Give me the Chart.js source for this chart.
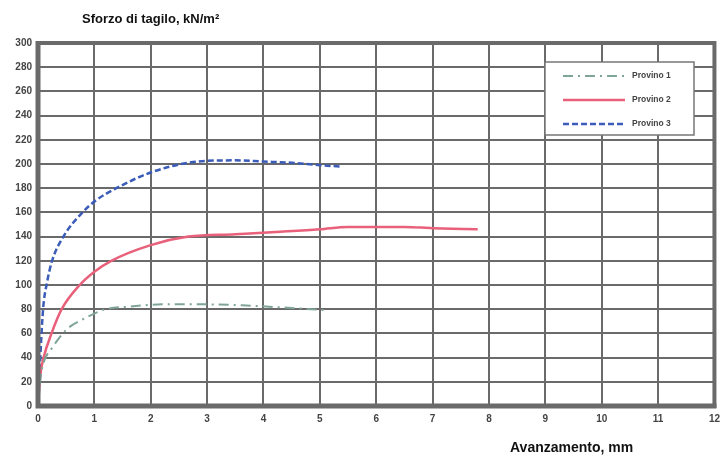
<!DOCTYPE html>
<html>
<head>
<meta charset="utf-8">
<script src="https://cdn.jsdelivr.net/npm/chart.js@4.4.1/dist/chart.umd.min.js"></script>
<style>
  html, body { margin: 0; padding: 0; background: #fff; }
  #wrap { width: 727px; height: 459px; position: relative; }
</style>
</head>
<body>
<div id="wrap"><canvas id="chart"></canvas></div>
<script>
// series (x = mm, y = kN/m2)
var p1X = [0, 0.05, 0.1, 0.25, 0.5, 0.77, 1.2, 1.6, 2.2, 3, 3.7, 4.5, 5.15];
var p1Y = [0, 25, 36, 48, 63, 71, 80, 82, 84, 84, 83, 81, 79];

var p2X = [0, 0.04, 0.1, 0.24, 0.42, 0.74, 1, 1.3, 2, 2.67, 3.5, 4.3, 5, 5.5, 6.5, 7, 7.8];
var p2Y = [0, 25, 40, 60, 80, 100, 111, 120, 133, 140, 142, 144, 146, 148, 148, 147, 146];

var p3X = [0, 0.03, 0.09, 0.16, 0.25, 0.45, 0.79, 1.03, 1.39, 2, 2.67, 3.5, 4, 4.5, 5, 5.35];
var p3Y = [0, 30, 80, 102, 120, 140, 160, 170, 180, 193, 201, 203, 202, 201, 199, 198];

var seriesNames = ["Provino 1", "Provino 2", "Provino 3"];
var yTitle = "Sforzo di tagilo, kN/m²";
var xTitle = "Avanzamento, mm";

function pts(xs, ys){
    return xs.map((x, i) => ({x: x, y: ys[i]}));
}

var gridColor = "#6a6a6a";
var tickFont = {family: "Liberation Sans", size: 10, weight: "bold"};

// frame, titles and the legend box
const extras = {
    id: "extras",
    afterDraw(chart){
        const c = chart.ctx;
        const a = chart.chartArea;
        c.save();
        c.strokeStyle = gridColor;
        c.lineWidth = 4;
        c.strokeRect(a.left, a.top, a.right - a.left, a.bottom - a.top);
        c.lineWidth = 5;
        c.beginPath();
        c.moveTo(a.left, a.top - 2);
        c.lineTo(a.left, a.bottom);
        c.lineTo(a.right + 2, a.bottom);
        c.stroke();

        c.fillStyle = "#111";
        c.font = "bold 13px 'Liberation Sans'";
        c.textBaseline = "middle";
        c.fillText(yTitle, 82, 19);
        c.font = "bold 14px 'Liberation Sans'";
        c.fillText(xTitle, 510, 448);

        // legend
        const lx = 545, ly = 62, lw = 149, lh = 73;
        c.fillStyle = "#fff";
        c.fillRect(lx, ly, lw, lh);
        c.strokeStyle = "#777";
        c.lineWidth = 1.5;
        c.strokeRect(lx, ly, lw, lh);
        chart.data.datasets.forEach((ds, i) => {
            const yy = ly + 14 + i * 24;
            c.strokeStyle = ds.borderColor;
            c.lineWidth = ds.borderWidth;
            c.setLineDash(ds.borderDash || []);
            c.beginPath();
            c.moveTo(lx + 18, yy);
            c.lineTo(lx + 80, yy);
            c.stroke();
            c.setLineDash([]);
            c.fillStyle = "#444";
            c.font = "bold 8.5px 'Liberation Sans'";
            c.fillText(ds.label, lx + 87, yy);
        });
        c.restore();
    }
};

const ctx = document.getElementById("chart");
const chart = new Chart(ctx, {
    type: "line",
    data: {
        datasets: [
            {
                label: seriesNames[0],
                data: pts(p1X, p1Y),
                borderColor: "#7fa596",
                borderWidth: 2,
                borderDash: [10, 5, 2, 5],
                pointRadius: 0,
                cubicInterpolationMode: "monotone"
            },
            {
                label: seriesNames[1],
                data: pts(p2X, p2Y),
                borderColor: "#e8607a",
                borderWidth: 2.5,
                pointRadius: 0,
                cubicInterpolationMode: "monotone"
            },
            {
                label: seriesNames[2],
                data: pts(p3X, p3Y),
                borderColor: "#3b5cb8",
                borderWidth: 2.5,
                borderDash: [6, 3],
                pointRadius: 0,
                cubicInterpolationMode: "monotone"
            }
        ]
    },
    options: {
        responsive: true,
        maintainAspectRatio: false,
        animation: false,
        layout: { padding: { top: 43, right: 4, left: 0, bottom: 0 } },
        plugins: {
            legend: { display: false },
            tooltip: { enabled: false }
        },
        scales: {
            x: {
                type: "linear",
                min: 0,
                max: 12,
                ticks: { stepSize: 1, color: "#444", font: tickFont, padding: 7 },
                grid: { color: gridColor, lineWidth: 2, drawTicks: false },
                border: { display: false },
                afterFit(scale){ scale.height = 53; }
            },
            y: {
                min: 0,
                max: 300,
                ticks: { stepSize: 20, color: "#444", font: tickFont, padding: 6 },
                grid: { color: gridColor, lineWidth: 2, drawTicks: false },
                border: { display: false },
                afterFit(scale){ scale.width = 38; }
            }
        }
    },
    plugins: [extras]
});
</script>
</body>
</html>
